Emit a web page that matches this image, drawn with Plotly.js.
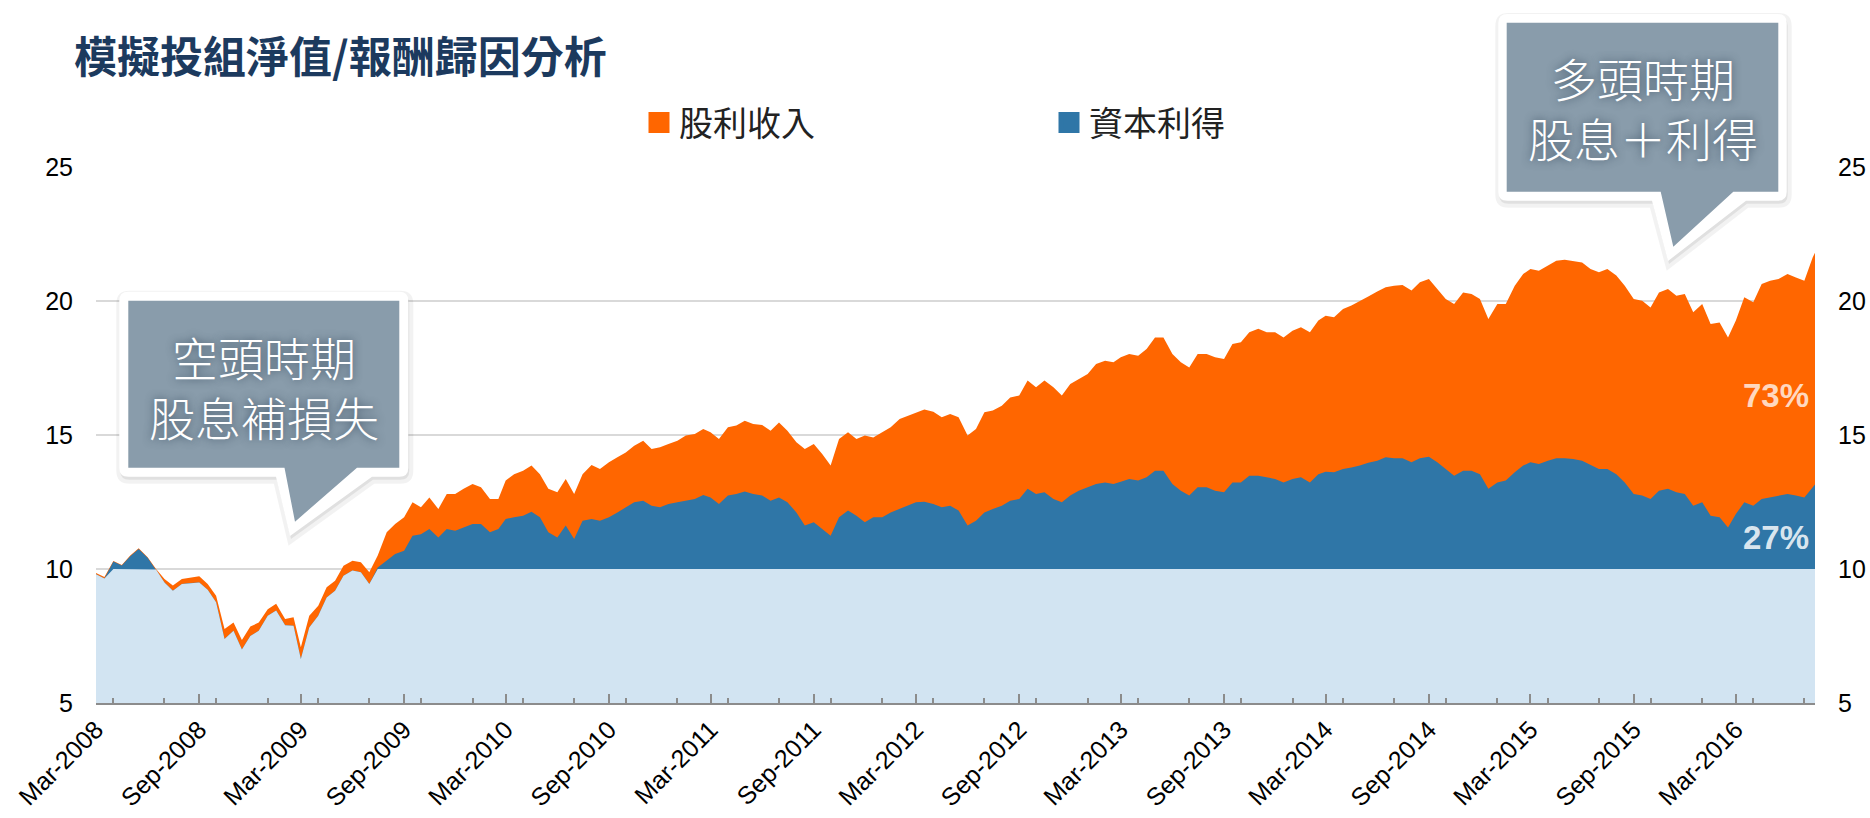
<!DOCTYPE html>
<html>
<head>
<meta charset="utf-8">
<script src="https://cdn.plot.ly/plotly-3.0.1.min.js"></script>
<style>
  html, body { margin: 0; padding: 0; background: #fff; }
  #chart { width: 1870px; height: 818px; }
</style>
</head>
<body>
<div id="chart"></div>
<script>
// semi-monthly readings, 1st and 16th of each month from Mar-2008
let totalNav = [
  9.85, 9.7, 10.3, 10.15, 10.5, 10.77, 10.44, 10.0, 9.63, 9.38,
  9.63, 9.69, 9.73, 9.44, 9.0, 7.76, 8.0, 7.35, 7.85, 8.0,
  8.5, 8.7, 8.13, 8.2, 7.08, 8.26, 8.63, 9.32, 9.56, 10.12,
  10.31, 10.25, 9.88, 10.5, 11.37, 11.68, 11.93, 12.49, 12.3, 12.67,
  12.24, 12.8, 12.8, 12.99, 13.17, 13.05, 12.61, 12.61, 13.3, 13.54,
  13.67, 13.86, 13.54, 12.99, 12.86, 13.36, 12.8, 13.54, 13.88, 13.73,
  13.98, 14.17, 14.35, 14.6, 14.79, 14.48, 14.54, 14.66, 14.79, 14.98,
  15.04, 15.22, 15.1, 14.85, 15.29, 15.35, 15.53, 15.41, 15.37, 15.16,
  15.47, 15.16, 14.73, 14.48, 14.66, 14.29, 13.86, 14.85, 15.1, 14.85,
  14.98, 14.91, 15.1, 15.29, 15.6, 15.72, 15.85, 15.95, 15.87, 15.66,
  15.78, 15.66, 14.98, 15.22, 15.85, 15.91, 16.09, 16.4, 16.47, 17.03,
  16.78, 17.03, 16.78, 16.47, 16.9, 17.09, 17.28, 17.65, 17.77, 17.71,
  17.9, 18.02, 17.96, 18.21, 18.64, 18.64, 18.02, 17.71, 17.52, 18.02,
  18.02, 17.9, 17.84, 18.4, 18.46, 18.83, 18.96, 18.83, 18.83, 18.64,
  18.89, 19.02, 18.83, 19.27, 19.45, 19.39, 19.7, 19.83, 20.01, 20.17,
  20.35, 20.51, 20.57, 20.6, 20.39, 20.7, 20.82, 20.45, 20.07, 19.89,
  20.32, 20.26, 20.07, 19.33, 19.89, 19.89, 20.57, 21.01, 21.19, 21.13,
  21.32, 21.5, 21.54, 21.5, 21.44, 21.19, 21.07, 21.19, 20.95, 20.57,
  20.07, 20.01, 19.76, 20.32, 20.45, 20.2, 20.26, 19.58, 19.89, 19.14,
  19.2, 18.64, 19.27, 20.14, 19.95, 20.63, 20.76, 20.82, 21.01, 20.88,
  20.76, 21.63, 21.8
];
let priceNav = [
  9.8, 9.65, 10.28, 10.13, 10.48, 10.75, 10.42, 9.98, 9.5, 9.19,
  9.44, 9.48, 9.5, 9.23, 8.76, 7.39, 7.7, 7.0, 7.5, 7.7,
  8.26, 8.45, 7.9, 7.88, 6.64, 7.82, 8.26, 8.94, 9.19, 9.75,
  9.94, 9.88, 9.44, 10.06, 10.31, 10.56, 10.68, 11.24, 11.3, 11.49,
  11.18, 11.49, 11.43, 11.55, 11.68, 11.68, 11.37, 11.49, 11.87, 11.93,
  11.99, 12.14, 11.93, 11.37, 11.18, 11.62, 11.12, 11.8, 11.87, 11.8,
  11.93, 12.11, 12.3, 12.49, 12.55, 12.36, 12.3, 12.43, 12.49, 12.55,
  12.61, 12.76, 12.67, 12.43, 12.74, 12.8, 12.89, 12.8, 12.74, 12.55,
  12.67, 12.49, 12.11, 11.62, 11.74, 11.49, 11.24, 11.93, 12.18, 11.99,
  11.74, 11.93, 11.93, 12.11, 12.24, 12.36, 12.49, 12.51, 12.43, 12.3,
  12.36, 12.18, 11.62, 11.8, 12.11, 12.24, 12.36, 12.55, 12.61, 12.99,
  12.8, 12.86, 12.61, 12.49, 12.74, 12.92, 13.05, 13.17, 13.23, 13.17,
  13.26, 13.36, 13.3, 13.42, 13.67, 13.67, 13.17, 12.92, 12.74, 13.05,
  13.05, 12.92, 12.86, 13.23, 13.23, 13.48, 13.48, 13.42, 13.36, 13.23,
  13.36, 13.42, 13.23, 13.54, 13.63, 13.61, 13.73, 13.79, 13.86, 13.96,
  14.04, 14.17, 14.13, 14.13, 13.98, 14.13, 14.19, 13.98, 13.73, 13.48,
  13.67, 13.67, 13.54, 12.99, 13.23, 13.3, 13.61, 13.86, 13.98, 13.92,
  14.04, 14.13, 14.13, 14.1, 14.04, 13.88, 13.73, 13.73, 13.54, 13.23,
  12.8, 12.74, 12.61, 12.92, 12.99, 12.86, 12.8, 12.36, 12.49, 11.99,
  11.93, 11.55, 12.05, 12.49, 12.36, 12.61, 12.67, 12.74, 12.8, 12.74,
  12.67, 13.05, 13.15
];
let baseNav = 10;
let seriesNames = ['股利收入', '資本利得'];
let shareLabels = ['73%', '27%'];
let shareAt = [16.47, 11.17];
let bubbleText = ['空頭時期<br>股息補損失', '多頭時期<br>股息＋利得'];

let orange = '#ff6600';
let blue = '#2f76a7';
let lightblue = '#d2e4f2';
let tickfont = {family: 'Liberation Sans, Arial, sans-serif', size: 25, color: '#000'};

// dates: 1st and 16th of each month, last reading at the right edge
let dates = [];
for (let i = 0; i < totalNav.length - 1; i++) {
  let m = 2 + Math.floor(i / 2);
  let y = 2008 + Math.floor(m / 12);
  let mm = String(m % 12 + 1).padStart(2, '0');
  dates.push(y + '-' + mm + '-' + (i % 2 ? '16' : '01'));
}
dates.push('2016-07-20');

let belowBase = priceNav.map(v => Math.min(v, baseNav));

// plot box in pixels, used to put the call-outs in paper units
const L = 96, R = 1815, T = 167, B = 703;
function px(x) { return (x - L) / (R - L); }
function py(y) { return (B - y) / (B - T); }

function bubble(x0, y0, x1, y1, r, tl, tr, tipx, tipy, dx, dy) {
  dx = dx || 0; dy = dy || 0;
  let p = [
    ['M', x0 + r, y0], ['L', x1 - r, y0], ['Q', x1, y0, x1, y0 + r],
    ['L', x1, y1 - r], ['Q', x1, y1, x1 - r, y1], ['L', tr, y1],
    ['L', tipx, tipy], ['L', tl, y1], ['L', x0 + r, y1],
    ['Q', x0, y1, x0, y1 - r], ['L', x0, y0 + r], ['Q', x0, y0, x0 + r, y0]
  ];
  return p.map(s => {
    let out = s[0];
    for (let k = 1; k < s.length; k += 2) {
      out += (k > 1 ? ' ' : '') + px(s[k] + dx).toFixed(5) + ',' + py(s[k + 1] + dy).toFixed(5);
    }
    return out;
  }).join(' ') + ' Z';
}

let boxes = [
  {outer: [119.3, 291.7, 408.3, 476.7, 9, 276, 372, 290, 536],
   inner: [128.3, 300.7, 399.3, 467.7, 0, 284.5, 357, 295, 521.7],
   text: [263.5, 386]},
  {outer: [1498.3, 14, 1786.7, 200.7, 9, 1652, 1746, 1668, 261],
   inner: [1506.7, 22.7, 1778.3, 191.7, 0, 1660.7, 1733.3, 1673.3, 246.7],
   text: [1643, 107]}
];

let shapes = [];
let annotations = [];
boxes.forEach((b, k) => {
  shapes.push({type: 'path', xref: 'paper', yref: 'paper', layer: 'above',
    path: bubble(...b.outer, 1, 3), fillcolor: 'rgba(0,0,0,0.07)',
    line: {color: 'rgba(0,0,0,0.05)', width: 8}});
  shapes.push({type: 'path', xref: 'paper', yref: 'paper', layer: 'above',
    path: bubble(...b.outer), fillcolor: '#ffffff', line: {width: 0}});
  shapes.push({type: 'path', xref: 'paper', yref: 'paper', layer: 'above',
    path: bubble(...b.inner), fillcolor: '#899cab', line: {width: 0}});
  annotations.push({text: bubbleText[k], xref: 'paper', yref: 'paper',
    x: px(b.text[0]), y: py(b.text[1]), xanchor: 'center', yanchor: 'middle',
    showarrow: false, align: 'center',
    font: {family: 'Noto Sans CJK TC, Noto Sans CJK SC, sans-serif', size: 46, weight: 300,
      color: '#ffffff', shadow: '0px 0px 9px rgba(45,65,85,0.85)'}});
});

annotations.push({text: shareLabels[0], xref: 'paper', yref: 'y', x: px(1811), y: shareAt[0],
  xanchor: 'right', yanchor: 'middle', showarrow: false,
  font: {family: 'Liberation Sans, Arial, sans-serif', size: 33, weight: 'bold', color: 'rgba(255,255,255,0.76)'}});
annotations.push({text: shareLabels[1], xref: 'paper', yref: 'y', x: px(1811), y: shareAt[1],
  xanchor: 'right', yanchor: 'middle', showarrow: false,
  font: {family: 'Liberation Sans, Arial, sans-serif', size: 33, weight: 'bold', color: 'rgba(255,255,255,0.84)'}});

let data = [
  {x: dates, y: totalNav, type: 'scatter', mode: 'lines', fill: 'tozeroy',
   fillcolor: orange, line: {width: 0, color: orange}, showlegend: false, hoverinfo: 'skip'},
  {x: dates, y: priceNav, type: 'scatter', mode: 'lines', fill: 'tozeroy',
   fillcolor: blue, line: {width: 0, color: blue}, showlegend: false, hoverinfo: 'skip'},
  {x: dates, y: belowBase, type: 'scatter', mode: 'lines', fill: 'tozeroy',
   fillcolor: lightblue, line: {width: 0, color: lightblue}, showlegend: false, hoverinfo: 'skip'},
  {x: [dates[0]], y: [0], type: 'scatter', mode: 'markers', name: seriesNames[0],
   marker: {symbol: 'square', size: 16, color: orange, line: {color: orange, width: 5}}},
  {x: [dates[0]], y: [0], type: 'scatter', mode: 'markers', name: seriesNames[1],
   marker: {symbol: 'square', size: 16, color: blue, line: {color: blue, width: 5}}},
  {x: [dates[0]], y: [baseNav], yaxis: 'y2', type: 'scatter', mode: 'lines',
   line: {width: 0}, showlegend: false, hoverinfo: 'skip'}
];

let layout = {
  width: 1870, height: 818,
  margin: {l: L, r: 1870 - R, t: T, b: 818 - B},
  paper_bgcolor: '#ffffff', plot_bgcolor: '#ffffff',
  hovermode: false,
  title: {
    text: '模擬投組淨值/報酬歸因分析',
    xref: 'container', yref: 'container', x: 74 / 1870, y: 1 - 58 / 818,
    xanchor: 'left', yanchor: 'middle',
    font: {family: 'Noto Sans CJK TC, Noto Sans CJK SC, sans-serif', size: 43, weight: 'bold', color: '#1c3a5e'}
  },
  showlegend: true,
  legend: {
    orientation: 'h', xref: 'container', yref: 'container',
    x: 639 / 1870, y: 1 - 123 / 818, xanchor: 'left', yanchor: 'middle',
    entrywidth: 365, entrywidthmode: 'pixels', bgcolor: 'rgba(0,0,0,0)',
    font: {family: 'Noto Sans CJK TC, Noto Sans CJK SC, sans-serif', size: 34, color: '#222'}
  },
  xaxis: {
    type: 'date', range: ['2008-03-01', '2016-07-20'],
    tick0: '2008-03-01', dtick: 'M6', tickformat: '%b-%Y', tickangle: -45,
    ticks: 'inside', ticklen: 9, tickwidth: 2, tickcolor: '#8c8c8c',
    minor: {dtick: 'M3', ticks: 'inside', ticklen: 5, tickwidth: 2, tickcolor: '#8c8c8c', showgrid: false},
    showline: true, linecolor: '#8c8c8c', linewidth: 2,
    showgrid: false, zeroline: false, tickfont: tickfont, ticklabelstandoff: 0
  },
  yaxis: {
    range: [5, 25], tick0: 5, dtick: 5, ticks: '',
    gridcolor: '#d9d9d9', gridwidth: 2, zeroline: false, showline: false,
    tickfont: tickfont, ticklabelstandoff: 22
  },
  yaxis2: {
    overlaying: 'y', side: 'right', range: [5, 25], tick0: 5, dtick: 5, ticks: '',
    showgrid: false, zeroline: false, showline: false,
    tickfont: tickfont, ticklabelstandoff: 22
  },
  shapes: shapes,
  annotations: annotations
};

Plotly.newPlot('chart', data, layout, {staticPlot: true, displayModeBar: false});
</script>
</body>
</html>
